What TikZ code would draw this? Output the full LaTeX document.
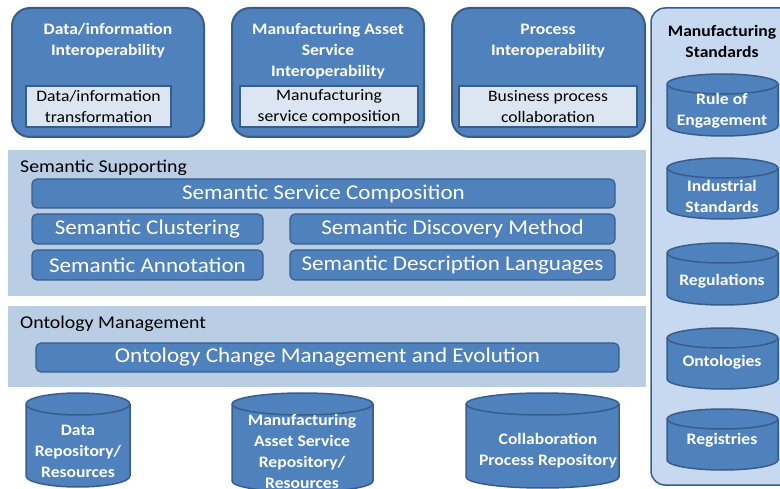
\documentclass[tikz,border=0pt]{standalone}
\usepackage{fontspec}
\setmainfont{Carlito}[FakeStretch=1.1]
\definecolor{dblue}{HTML}{4F81BD}
\definecolor{bord}{HTML}{385D8A}
\definecolor{panel}{HTML}{B9CDE5}
\definecolor{rpanel}{HTML}{C6D9F1}
\definecolor{inner}{HTML}{DCE6F2}
\newcommand\mycyl[5]{%
  \pgfmathsetmacro\myrx{(#3-#1)/2}%
  \filldraw[cylstyle] (#1,#2+#5) -- (#1,#4-#5) arc[start angle=180,end angle=360,x radius=\myrx pt,y radius=#5pt] -- (#3,#2+#5) arc[start angle=0,end angle=180,x radius=\myrx pt,y radius=#5pt] -- cycle;
  \draw[cylstyle] (#1,#2+#5) arc[start angle=180,end angle=360,x radius=\myrx pt,y radius=#5pt];
}
\begin{document}
\begin{tikzpicture}[x=1pt,y=-1pt,
  topbox/.style={draw=bord, line width=2pt, fill=dblue, rounded corners=18pt},
  innerbox/.style={draw=bord, line width=1.2pt, fill=inner, inner sep=0pt, align=center, font=\fontsize{16}{21}\selectfont},
  panelbox/.style={fill=panel},
  sembox/.style={draw=bord, line width=1.2pt, fill=dblue, rounded corners=5pt, text=white, inner sep=0pt, font=\fontsize{21}{24}\selectfont},
  ttl/.style={text=white, font=\bfseries\fontsize{16}{21}\selectfont, align=center, inner sep=0pt},
  cyltxt/.style={text=white, font=\bfseries\fontsize{16}{21}\selectfont, align=center, inner sep=0pt},
  cylstyle/.style={fill=dblue, draw=bord, line width=1.5pt},
  plabel/.style={anchor=west, inner sep=0pt, font=\fontsize{18}{20}\selectfont}
]
\useasboundingbox (0,0) rectangle (780,489);
\clip (0,0) rectangle (780,489);

% top boxes
\draw[topbox] (12,8) rectangle (204,137);
\draw[topbox] (232,8) rectangle (424,137);
\draw[topbox] (452,8) rectangle (645,137);
\node[ttl] (t1) at (108,40.5) {Data/information\\Interoperability};
\node[ttl] (t2) at (328,51.5) {Manufacturing Asset\\Service\\Interoperability};
\node[ttl] (t3) at (548,41) {Process\\Interoperability};
\node[innerbox, minimum width=145pt, minimum height=41pt] (i1) at (98.5,106.5) {Data/information\\transformation};
\node[innerbox, minimum width=178pt, minimum height=41pt] (i2) at (329,106.5) {Manufacturing\\service composition};
\node[innerbox, minimum width=178pt, minimum height=41pt] (i3) at (548,106.5) {Business process\\collaboration};

% right panel
\draw[fill=rpanel, draw=bord, line width=1.5pt, rounded corners=14pt] (651,8) rectangle (800,485);
\node[font=\bfseries\fontsize{16}{21}\selectfont, align=center, inner sep=0pt] (ms) at (722,41) {Manufacturing\\Standards};
\mycyl{667}{74}{778}{136}{10}
\node[cyltxt] (c1) at (722,111) {Rule of\\Engagement};
\mycyl{667}{158}{778}{219}{10}
\node[cyltxt] (c2) at (722,196.5) {Industrial\\Standards};
\mycyl{667}{243}{778}{305}{10}
\node[cyltxt] (c3) at (722,281.5) {Regulations};
\mycyl{667}{328}{778}{389}{10}
\node[cyltxt] (c4) at (722,362.5) {Ontologies};
\mycyl{667}{409}{778}{470}{10}
\node[cyltxt] (c5) at (722,440.5) {Registries};

% semantic supporting panel
\fill[panelbox] (8,150) rectangle (646,296);
\node[plabel] (sslab) at (20,168) {Semantic Supporting};
\node[sembox, minimum width=583pt, minimum height=29pt] (ssc) at (323.5,193.5) {Semantic Service Composition};
\node[sembox, minimum width=231pt, minimum height=30pt] (scl) at (147.5,229) {Semantic Clustering};
\node[sembox, minimum width=325pt, minimum height=30pt] (sdm) at (452.5,229) {Semantic Discovery Method};
\node[sembox, minimum width=231pt, minimum height=30pt] (san) at (147.5,265) {Semantic Annotation};
\node[sembox, minimum width=325pt, minimum height=30pt] (sdl) at (452.5,265) {Semantic Description Languages};

% ontology management panel
\fill[panelbox] (8,306) rectangle (646,387);
\node[plabel] (omlab) at (20,324) {Ontology Management};
\node[sembox, minimum width=583pt, minimum height=29pt] (ocm) at (327.5,357.5) {Ontology Change Management and Evolution};

% bottom cylinders
\mycyl{26}{393}{130}{487}{11}
\node[cyltxt] (b1) at (78,451.5) {Data\\Repository/\\Resources};
\mycyl{232}{393}{373}{492}{11}
\node[cyltxt] (b2) at (302,451) {Manufacturing\\Asset Service\\Repository/\\Resources};
\mycyl{466}{393}{619}{488}{11}
\node[cyltxt] (b3) at (548,451) {Collaboration\\Process Repository};
\end{tikzpicture}
\end{document}
